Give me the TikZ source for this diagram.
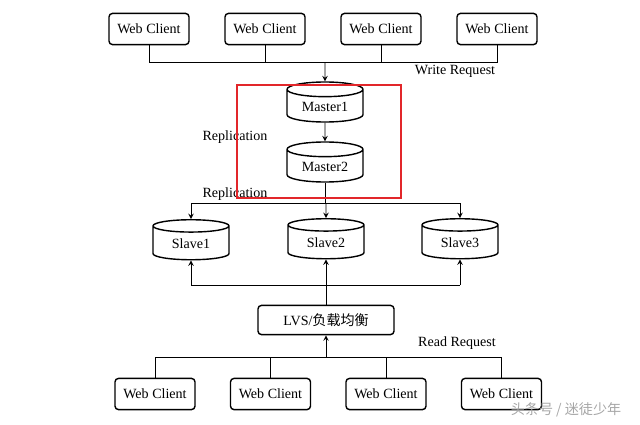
\documentclass[tikz,border=0pt]{standalone}
\usepackage{fontspec}
\setmainfont{Liberation Serif}
\newfontfamily\cjk{Noto Sans CJK SC}
\usepackage{tikz}
\usetikzlibrary{calc, shapes.geometric, arrows}
\definecolor{boxred}{RGB}{226,38,42}
\tikzstyle{client}=[draw, rounded corners=2.5pt, line width=1pt, minimum width=2cm, minimum height=0.78cm, inner sep=1pt]
\tikzstyle{db}=[draw, shape=cylinder, shape border rotate=90, aspect=0.3, line width=1pt, minimum width=1.9cm, minimum height=1cm, inner sep=1pt]
\tikzstyle{wire}=[line width=0.7pt]
\tikzset{>=stealth}

\begin{document}
\begin{tikzpicture}[x=0.025cm, y=-0.025cm]
\useasboundingbox (0,0) rectangle (640,424);
\foreach \j in {0,1,2,3}
{
\node[client] (wt\j) at (149+116*\j, 29) {Web Client};
\node[client] (wb\j) at (155+115.5*\j, 394) {Web Client};
}
\node[db] (m1) at (325, 107) {Master1};
\node[db] (m2) at (325, 167) {Master2};
\node[db] (s1) at (191, 244) {Slave1};
\node[db] (s2) at (326, 243) {Slave2};
\node[db] (s3) at (460, 243) {Slave3};
\node[client, minimum width=3.4cm, minimum height=0.73cm] (lvs) at (326, 320) {LVS/{\cjk 负载均衡}};

\coordinate (wbus) at (325, 62);
\coordinate (rbus) at (326, 203);
\coordinate (lbus) at (326, 285);
\coordinate (dbus) at (326, 357);

% write side
\draw[wire] (wt0.south) -- (wt0.south |- wbus) -- (wt3.south |- wbus) -- (wt3.south);
\draw[wire] (wt1.south) -- (wt1.south |- wbus);
\draw[wire] (wt2.south) -- (wt2.south |- wbus);
\draw[wire, ->] (wbus) -- (m1.north);
\draw[wire, ->] (m1.south) -- (m2.north);

% replication to slaves
\draw[wire] (m2.south) -- (m2.south |- rbus);
\draw[wire] (s1.north |- rbus) -- (s3.north |- rbus);
\draw[wire, ->] (s1.north |- rbus) -- (s1.north);
\draw[wire, ->] (rbus) -- (s2.north);
\draw[wire, ->] (s3.north |- rbus) -- (s3.north);

% read side
\draw[wire] (s1.south |- lbus) -- (s3.south |- lbus);
\draw[wire, ->] (s1.south |- lbus) -- (s1.south);
\draw[wire, ->] (lvs.north) -- (s2.south);
\draw[wire, ->] (s3.south |- lbus) -- (s3.south);
\draw[wire, ->] (dbus) -- (lvs.south);
\draw[wire] (wb0.north) -- (wb0.north |- dbus) -- (wb3.north |- dbus) -- (wb3.north);
\draw[wire] (wb1.north) -- (wb1.north |- dbus);
\draw[wire] (wb2.north) -- (wb2.north |- dbus);

\node (wlbl) at (455, 71) {Write Request};
\node (rep1) at (235, 137) {Replication};
\node (rep2) at (235, 194) {Replication};
\node (rlbl) at (457, 343) {Read Request};
\node[text=black!35, font=\cjk] (mark) at (566, 410) {头条号 / 迷徒少年};

\draw[boxred, line width=1.5pt] (237, 85) rectangle (401, 198);
\end{tikzpicture}
\end{document}
